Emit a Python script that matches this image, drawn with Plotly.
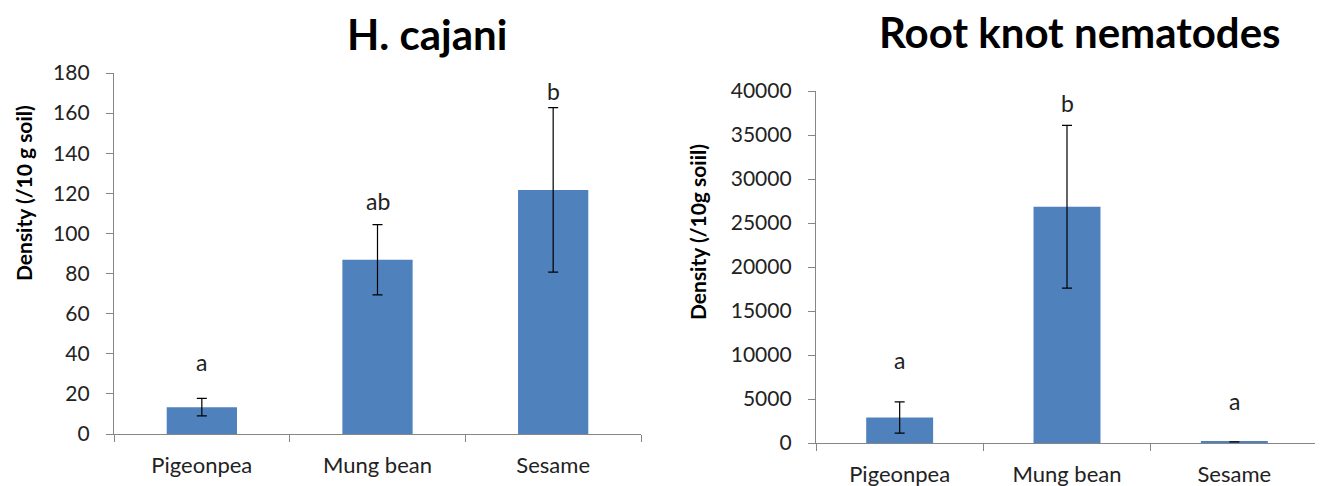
import plotly.graph_objects as go

categories = ["Pigeonpea", "Mung bean", "Sesame"]

hc_values = [13.4, 86.9, 121.7]
hc_errors = [4.4, 17.5, 41.0]
hc_letters = ["a", "ab", "b"]
hc_letter_y = [36, 116, 171]
hc_yticks = [0, 20, 40, 60, 80, 100, 120, 140, 160, 180]

rk_values = [2900, 26850, 120]
rk_errors = [1780, 9250, 0]
rk_letters = ["a", "b", "a"]
rk_letter_y = [9450, 38600, 4750]
rk_yticks = [0, 5000, 10000, 15000, 20000, 25000, 30000, 35000, 40000]

OFF = 8  # page body margin
W, H = 1323 - OFF, 486 - OFF
BAR = "#4F81BD"
AXC = "#868686"
FONT = "Lato"

fig = go.Figure()

fig.add_trace(go.Bar(
    x=categories, y=hc_values, width=0.4, marker=dict(color=BAR, line=dict(width=0)),
    error_y=dict(type="data", array=hc_errors, color="black", thickness=1.2, width=5),
    xaxis="x", yaxis="y", showlegend=False))
fig.add_trace(go.Bar(
    x=categories, y=rk_values, width=0.4, marker=dict(color=BAR, line=dict(width=0)),
    error_y=dict(type="data", array=rk_errors, color="black", thickness=1.2, width=5),
    xaxis="x2", yaxis="y2", showlegend=False))

def px(x):
    return (x - OFF) / W

def py(y):
    return (H - (y - OFF)) / H

xcommon = dict(type="category", showline=True, linecolor=AXC, linewidth=1.3,
               ticks="outside", ticklen=7, tickcolor=AXC, tickson="boundaries",
               showgrid=False, zeroline=False, automargin=False,
               tickfont=dict(family=FONT, size=22, color="#222"), ticklabelstandoff=11)
ycommon = dict(showline=True, linecolor=AXC, linewidth=1.3, ticks="outside", ticklen=7,
               tickcolor=AXC, showgrid=False, zeroline=False, automargin=False,
               tickformat="d",
               tickfont=dict(family=FONT, size=21, color="#222"), ticklabelstandoff=12)

fig.update_layout(
    width=W, height=H, margin=dict(l=0, r=0, t=0, b=0, pad=0, autoexpand=False),
    paper_bgcolor="white", plot_bgcolor="white", bargap=0.6,
    xaxis=dict(domain=[px(114), px(641)], anchor="y", **xcommon),
    yaxis=dict(domain=[py(434), py(73)], anchor="x", range=[0, 180],
               tickvals=hc_yticks, **ycommon),
    xaxis2=dict(domain=[px(816), px(1318)], anchor="y2", **xcommon),
    yaxis2=dict(domain=[py(443), py(91)], anchor="x2", range=[0, 40000],
                tickvals=rk_yticks, **ycommon),
)

ann = []
for c, t, yv in zip(categories, hc_letters, hc_letter_y):
    ann.append(dict(x=c, y=yv, xref="x", yref="y", text=t, showarrow=False,
                    xanchor="center", yanchor="middle",
                    font=dict(family=FONT, size=23, color="#222")))
for c, t, yv in zip(categories, rk_letters, rk_letter_y):
    ann.append(dict(x=c, y=yv, xref="x2", yref="y2", text=t, showarrow=False,
                    xanchor="center", yanchor="middle",
                    font=dict(family=FONT, size=23, color="#222")))

def paper_text(x, y, text, size, angle=0):
    return dict(x=px(x), y=py(y), xref="paper", yref="paper", text=text,
                textangle=angle, showarrow=False, xanchor="center", yanchor="middle",
                font=dict(family=FONT, size=size, color="black"))

ann.append(paper_text(427, 34, "<b>H. cajani</b>", 42))
ann.append(paper_text(1080, 32, "<b>Root knot nematodes</b>", 42))
ann.append(paper_text(23, 193, "<b>Density (/10 g soil)</b>", 21, -90))
ann.append(paper_text(697, 232, "<b>Density (/10g soiil)</b>", 21, -90))
fig.update_layout(annotations=ann)

fig.write_html("out.html")
